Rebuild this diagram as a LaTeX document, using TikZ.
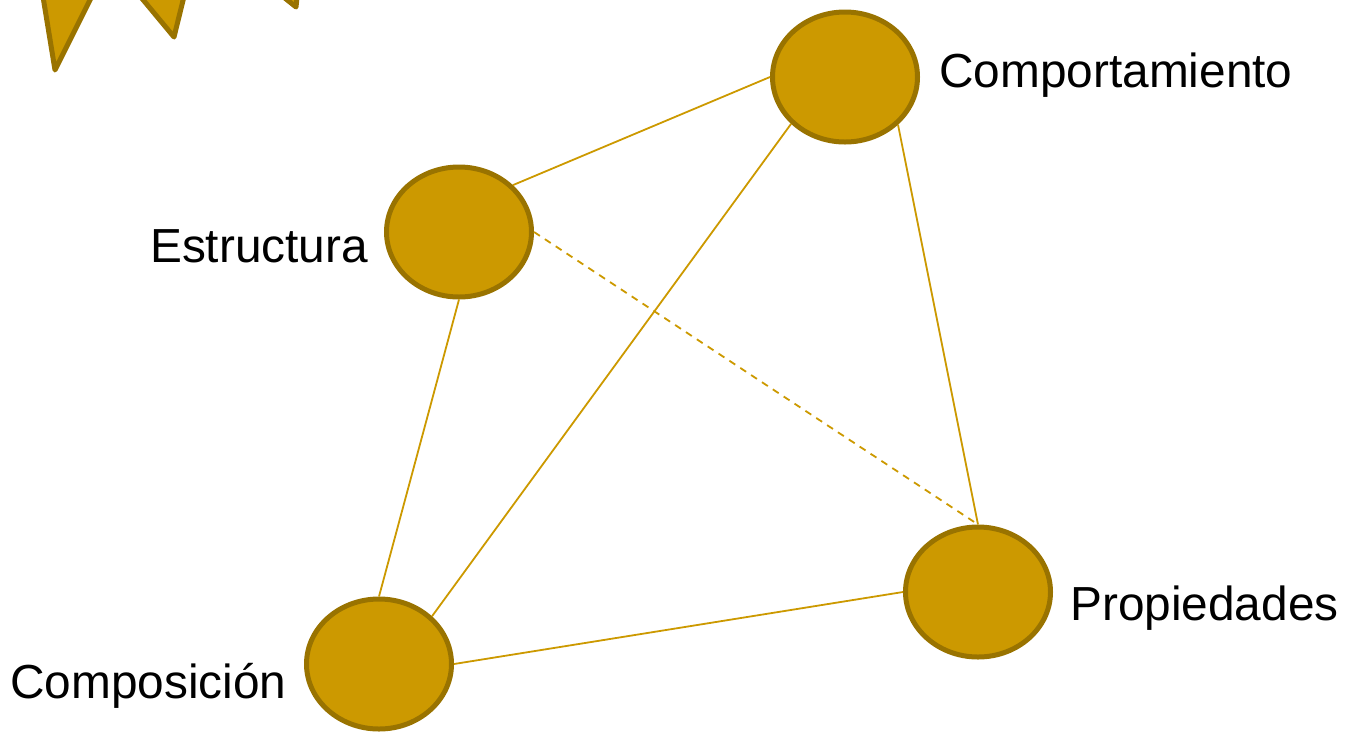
\documentclass[tikz,border=0pt]{standalone}
\usepackage{fontspec}
\setmainfont{Liberation Sans}
\usetikzlibrary{shapes.geometric}
\definecolor{gold}{HTML}{CC9900}
\definecolor{darkgold}{HTML}{997300}
\begin{document}
\begin{tikzpicture}[x=1pt,y=-1pt,
  facet/.style={ellipse, draw=darkgold, fill=gold, line width=5pt,
    inner sep=0pt, minimum width=145pt, minimum height=130pt},
  edge/.style={draw=gold, line width=1.8pt},
  hidden/.style={edge, dash pattern=on 7pt off 6pt},
  lbl/.style={inner sep=0pt, anchor=base west, font=\fontsize{47.8pt}{50pt}\selectfont},
  spike/.style={draw=darkgold, fill=gold, line width=5pt, line join=round}]
\useasboundingbox (0,0) rectangle (1347,732);
\begin{scope}
  \clip (0,0) rectangle (1347,732);
  % points of the decorative star along the top edge
  \path[spike] (37,-40) -- (55,70) -- (110,-40) -- cycle;
  \path[spike] (110,-40) -- (174,37) -- (193,-40) -- cycle;
  \path[spike] (250,-30) -- (296,7) -- (300,-30) -- cycle;
\end{scope}

% the four facets
\node[facet] (comp) at (845,77) {};
\node[facet] (estr) at (459,232) {};
\node[facet] (prop) at (978,592) {};
\node[facet] (cmpo) at (379,664) {};

% connectors between facets
\draw[edge] (estr.41) -- (comp.180);
\draw[edge] (cmpo.42) -- (comp.221);
\draw[edge] (estr.270) -- (cmpo.90);
\draw[edge] (comp.-42) -- (prop.90);
\draw[edge] (cmpo.0) -- (prop.180);
\draw[hidden] (estr.0) -- (prop.90);

\node[lbl] (tC) at (939,87) {Comportamiento};
\node[lbl] (tE) at (150,262) {Estructura};
\node[lbl] (tK) at (10,698) {Composición};
\node[lbl] (tP) at (1070,620) {Propiedades};
\end{tikzpicture}
\end{document}
